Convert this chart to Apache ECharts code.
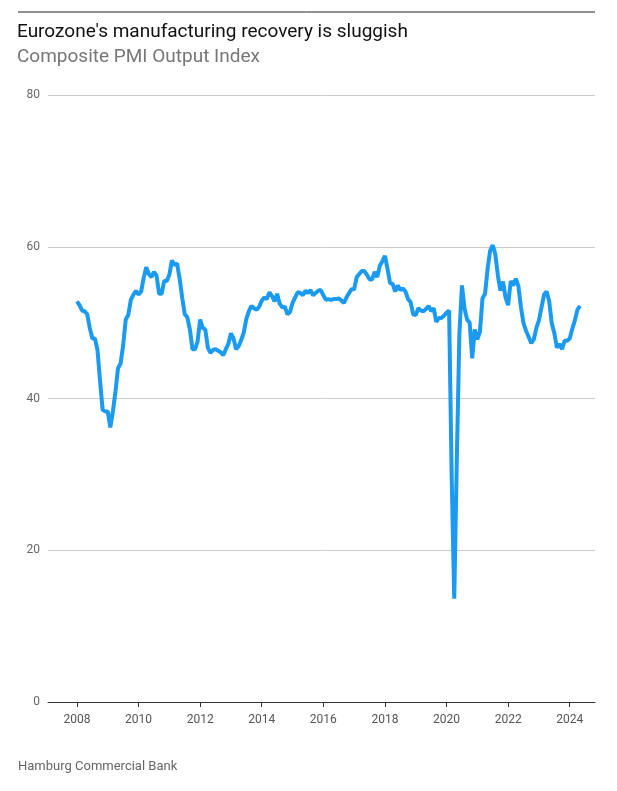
<!DOCTYPE html>
<html>
<head>
<meta charset="utf-8">
<script src="https://cdn.jsdelivr.net/npm/echarts@6/dist/echarts.min.js"></script>
<style>
  html, body { margin: 0; padding: 0; background: #fff; }
  #chart { width: 617px; height: 791px; }
</style>
</head>
<body>
<div id="chart"></div>
<script>
// monthly Composite PMI, Jan 2008 onwards
var startYear = 2008;
var pmiValues = [
  52.8, 52.3, 51.6, 51.5, 51.1, 49.3, 47.9, 47.9, 46.4, 42.3, 38.5, 38.3,
  38.3, 36.2, 38.3, 40.9, 44.0, 44.6, 47.0, 50.4, 51.0, 53.0, 53.7, 54.2,
  53.7, 54.1, 55.9, 57.3, 56.4, 56.0, 56.7, 56.2, 53.8, 53.8, 55.5, 55.5,
  56.3, 58.2, 57.6, 57.8, 55.8, 53.3, 51.1, 50.7, 49.1, 46.5, 46.5, 47.5,
  50.4, 49.3, 49.1, 46.7, 46.0, 46.4, 46.5, 46.3, 46.1, 45.7, 46.5, 47.2,
  48.6, 47.9, 46.5, 46.9, 47.7, 48.7, 50.5, 51.5, 52.2, 51.9, 51.7, 52.1,
  52.9, 53.3, 53.1, 54.0, 53.5, 52.8, 53.8, 52.5, 52.0, 52.1, 51.1, 51.4,
  52.6, 53.3, 54.0, 53.9, 53.6, 54.2, 53.9, 54.3, 53.6, 53.9, 54.2, 54.3,
  53.6, 53.0, 53.1, 53.0, 53.1, 53.1, 53.2, 52.9, 52.6, 53.3, 53.9, 54.4,
  54.4, 56.0, 56.4, 56.8, 56.8, 56.3, 55.7, 55.7, 56.7, 56.0, 57.5, 58.1,
  58.8, 57.1, 55.2, 55.1, 54.1, 54.9, 54.3, 54.5, 54.1, 53.1, 52.7, 51.1,
  51.0, 51.9, 51.6, 51.5, 51.8, 52.2, 51.5, 51.9, 50.1, 50.6, 50.6, 50.9,
  51.3, 51.6, 29.7, 13.6, 31.9, 48.5, 54.9, 51.9, 50.4, 50.0, 45.3, 49.1,
  47.8, 48.8, 53.2, 53.8, 57.1, 59.5, 60.2, 59.0, 56.2, 54.2, 55.4, 53.3,
  52.3, 55.5, 54.9, 55.8, 54.8, 52.0, 49.9, 48.9, 48.1, 47.3, 47.8, 49.3,
  50.3, 52.0, 53.7, 54.1, 52.8, 49.9, 48.6, 46.7, 47.2, 46.5, 47.6, 47.6,
  47.9, 49.2, 50.3, 51.7, 52.2
];
var yearTicks = [2008, 2010, 2012, 2014, 2016, 2018, 2020, 2022, 2024];

var seriesData = pmiValues.map(function (v, i) {
  return [startYear + i / 12, v];
});

var chart = echarts.init(document.getElementById('chart'));
chart.setOption({
  animation: false,
  textStyle: { fontFamily: 'Roboto, "Open Sans", sans-serif' },
  graphic: [
    { type: 'line', shape: { x1: 18, y1: 12, x2: 595, y2: 12 }, style: { stroke: '#222', lineWidth: 1 } },
    { type: 'text', left: 18, top: 760, style: { text: 'Hamburg Commercial Bank', fill: '#666', font: '13px Roboto, sans-serif' } }
  ],
  title: {
    text: "Eurozone's manufacturing recovery is sluggish",
    subtext: 'Composite PMI Output Index',
    left: 12, top: 18,
    itemGap: 6,
    textStyle: { fontSize: 19, fontWeight: 'normal', color: '#111' },
    subtextStyle: { fontSize: 19, color: '#777' }
  },
  grid: { left: 48, right: 22, top: 95, bottom: 89 },
  xAxis: {
    type: 'value',
    min: 2007.06, max: 2024.82,
    axisLine: { lineStyle: { color: '#333' } },
    axisTick: { show: true, length: 5, customValues: yearTicks, lineStyle: { color: '#333' } },
    axisLabel: {
      color: '#555', fontSize: 12, margin: 12,
      customValues: yearTicks,
      formatter: function (v) { return String(Math.round(v)); }
    },
    splitLine: { show: false }
  },
  yAxis: {
    type: 'value',
    min: 0, max: 80, interval: 20,
    axisLine: { show: false },
    axisTick: { show: false },
    axisLabel: { color: '#666', fontSize: 12, margin: 8 },
    splitLine: { lineStyle: { color: '#ccc' } }
  },
  series: [{
    type: 'line',
    data: seriesData,
    showSymbol: false,
    lineStyle: { color: '#1a9af0', width: 4 },
    itemStyle: { color: '#1a9af0' }
  }]
});
</script>
</body>
</html>
